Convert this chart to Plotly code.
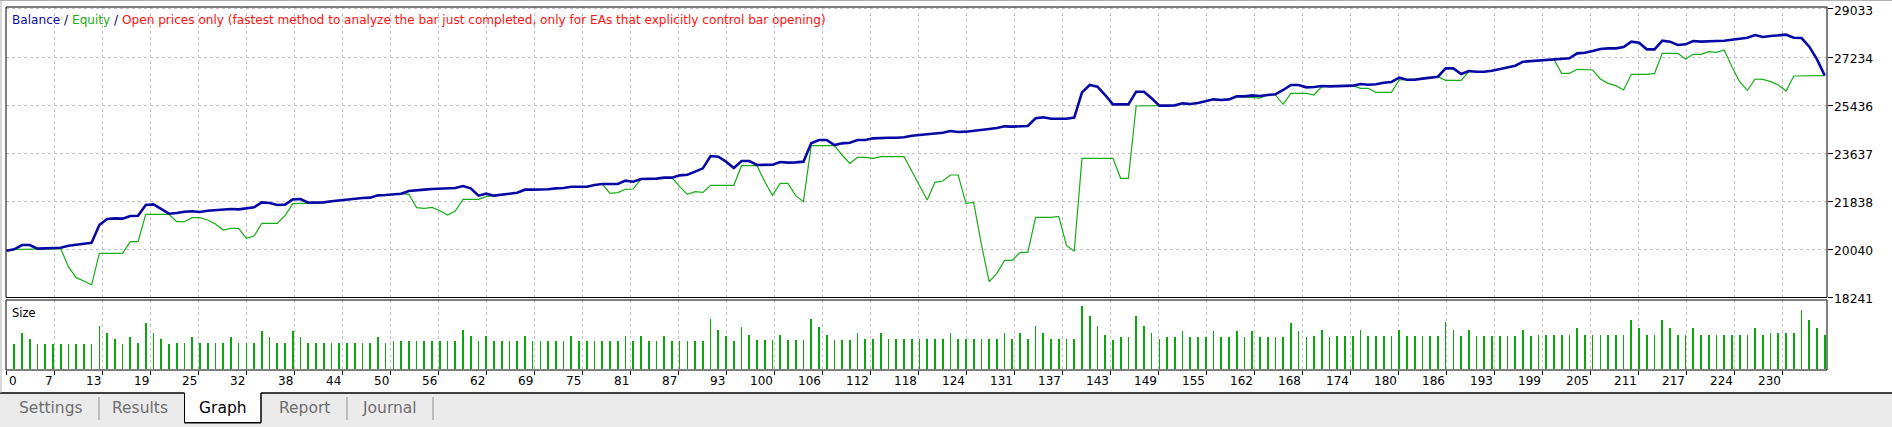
import plotly.graph_objects as go

# ---------------- data ----------------
balance = [
    19990, 20040, 20202, 20202, 20065, 20077, 20090, 20102, 20177, 20227,
    20252, 20289, 20950, 21175, 21200, 21187, 21287, 21299, 21698, 21723,
    21549, 21374, 21399, 21449, 21462, 21437, 21486, 21511, 21524, 21549,
    21536, 21586, 21611, 21798, 21773, 21698, 21711, 21910, 21923, 21786,
    21786, 21798, 21836, 21873, 21898, 21948, 21960, 21973, 22060, 22073,
    22098, 22122, 22222, 22260, 22272, 22297, 22310, 22322, 22334, 22409,
    22322, 22048, 22122, 22048, 22098, 22122, 22160, 22272, 22272, 22272,
    22285, 22322, 22334, 22384, 22372, 22384, 22447, 22484, 22484, 22484,
    22609, 22571, 22671, 22671, 22684, 22721, 22721, 22808, 22833, 22946,
    23070, 23532, 23507, 23320, 23083, 23345, 23345, 23195, 23195, 23207,
    23307, 23282, 23295, 23320, 24005, 24130, 24130, 23943, 24005, 24030,
    24130, 24130, 24192, 24217, 24217, 24217, 24230, 24292, 24317, 24367,
    24392, 24404, 24467, 24429, 24442, 24467, 24504, 24542, 24579, 24641,
    24629, 24641, 24654, 24941, 24978, 24928, 24928, 24928, 24966, 25913,
    26188, 26125, 25814, 25464, 25464, 25464, 25938, 25938, 25689, 25415,
    25415, 25427, 25502, 25477, 25514, 25589, 25651, 25627, 25651, 25764,
    25764, 25801, 25776, 25814, 25839, 26001, 26188, 26188, 26100, 26113,
    26150, 26138, 26138, 26150, 26163, 26225, 26200, 26213, 26275, 26300,
    26462, 26387, 26387, 26425, 26462, 26499, 26811, 26811, 26599, 26711,
    26686, 26686, 26724, 26786, 26836, 26911, 27061, 27086, 27086, 27110,
    27160, 27173, 27185, 27372, 27397, 27460, 27534, 27559, 27559, 27609,
    27809, 27771, 27522, 27522, 27846, 27809, 27684, 27709, 27834, 27809,
    27809, 27834, 27846, 27884, 27921, 27958, 28058, 27983, 28021, 28046,
    28071, 27958, 27946, 27622, 27148, 26537,
]

equity = [
    19990, 20040, 20040, 20040, 20040, 20065, 20065, 20065, 19391, 18980,
    18855, 18706, 19890, 19890, 19890, 19890, 20327, 20327, 21349, 21349,
    21349, 21349, 21075, 21075, 21225, 21225, 21137, 20988, 20763, 20826,
    20826, 20452, 20539, 21013, 21013, 21013, 21299, 21748, 21761, 21761,
    21761, 21798, 21836, 21873, 21898, 21948, 21960, 21973, 22060, 22073,
    22098, 22122, 22098, 21599, 21574, 21611, 21486, 21324, 21474, 21910,
    21910, 21910, 22010, 22048, 22098, 22122, 22160, 22272, 22272, 22272,
    22285, 22322, 22334, 22384, 22372, 22384, 22447, 22484, 22135, 22160,
    22285, 22297, 22671, 22671, 22684, 22721, 22721, 22384, 22098, 22197,
    22172, 22434, 22434, 22434, 22434, 23170, 23170, 23170, 22571, 22060,
    22509, 22509, 22048, 21823, 23918, 23918, 23918, 23918, 23569, 23257,
    23482, 23482, 23444, 23507, 23507, 23507, 23507, 22970, 22422, 21886,
    22546, 22596, 22821, 22821, 21761, 21798, 20227, 18830, 19142, 19628,
    19628, 19928, 19928, 21237, 21237, 21237, 21274, 20177, 19978, 23444,
    23444, 23444, 23444, 23444, 22696, 22696, 25402, 25402, 25402, 25415,
    25415, 25427, 25502, 25477, 25514, 25589, 25651, 25627, 25651, 25764,
    25739, 25701, 25701, 25814, 25814, 25464, 25876, 25876, 25876, 25814,
    26125, 26138, 26138, 26150, 26163, 26063, 26063, 25913, 25913, 25913,
    26375, 26387, 26387, 26425, 26462, 26499, 26362, 26362, 26362, 26686,
    26686, 26686, 26724, 26786, 26836, 26911, 27061, 27086, 27086, 27110,
    27148, 26624, 26624, 26774, 26774, 26749, 26412, 26250, 26163, 26001,
    26587, 26587, 26587, 26624, 27372, 27372, 27372, 27160, 27335, 27335,
    27435, 27410, 27497, 26874, 26312, 25988, 26412, 26400, 26312, 26188,
    25963, 26524, 26524, 26524, 26524, 26537,
]

sizes = [
    0.25, 0.36, 0.30, 0.25, 0.25, 0.25, 0.25, 0.25, 0.25, 0.25,
    0.25, 0.43, 0.36, 0.30, 0.25, 0.32, 0.26, 0.46, 0.36, 0.30,
    0.25, 0.26, 0.26, 0.32, 0.26, 0.26, 0.26, 0.26, 0.32, 0.26,
    0.26, 0.26, 0.38, 0.32, 0.26, 0.26, 0.38, 0.32, 0.26, 0.26,
    0.26, 0.26, 0.26, 0.26, 0.26, 0.26, 0.26, 0.32, 0.26, 0.28,
    0.28, 0.28, 0.28, 0.28, 0.28, 0.28, 0.28, 0.28, 0.39, 0.33,
    0.28, 0.33, 0.28, 0.28, 0.28, 0.28, 0.33, 0.28, 0.28, 0.28,
    0.28, 0.28, 0.33, 0.28, 0.28, 0.28, 0.28, 0.28, 0.28, 0.33,
    0.28, 0.33, 0.28, 0.28, 0.33, 0.28, 0.28, 0.28, 0.28, 0.28,
    0.50, 0.39, 0.33, 0.28, 0.42, 0.34, 0.29, 0.29, 0.29, 0.34,
    0.29, 0.29, 0.29, 0.50, 0.42, 0.34, 0.29, 0.29, 0.29, 0.36,
    0.30, 0.30, 0.36, 0.30, 0.30, 0.30, 0.30, 0.30, 0.30, 0.30,
    0.30, 0.36, 0.30, 0.30, 0.30, 0.30, 0.30, 0.30, 0.36, 0.30,
    0.36, 0.30, 0.43, 0.36, 0.30, 0.30, 0.30, 0.30, 0.63, 0.53,
    0.43, 0.34, 0.29, 0.32, 0.32, 0.53, 0.43, 0.36, 0.30, 0.32,
    0.32, 0.38, 0.32, 0.32, 0.32, 0.38, 0.32, 0.32, 0.38, 0.32,
    0.38, 0.32, 0.32, 0.32, 0.32, 0.46, 0.38, 0.32, 0.33, 0.39,
    0.32, 0.33, 0.33, 0.33, 0.39, 0.33, 0.33, 0.33, 0.33, 0.39,
    0.33, 0.33, 0.33, 0.33, 0.33, 0.47, 0.39, 0.33, 0.39, 0.33,
    0.33, 0.33, 0.33, 0.33, 0.33, 0.39, 0.33, 0.34, 0.34, 0.34,
    0.34, 0.34, 0.41, 0.34, 0.34, 0.34, 0.34, 0.34, 0.34, 0.49,
    0.41, 0.34, 0.34, 0.49, 0.41, 0.34, 0.34, 0.41, 0.34, 0.34,
    0.34, 0.34, 0.34, 0.34, 0.34, 0.41, 0.34, 0.36, 0.36, 0.36,
    0.36, 0.59, 0.49, 0.41, 0.34,
]

x_tick_labels = ["0", "7", "13", "19", "25", "32", "38", "44", "50", "56", "62", "69",
                 "75", "81", "87", "93", "100", "106", "112", "118", "124", "131",
                 "137", "143", "149", "155", "162", "168", "174", "180", "186", "193",
                 "199", "205", "211", "217", "224", "230"]
y_tick_values = [18241, 20040, 21838, 23637, 25436, 27234, 29033]

assert len(balance) == len(equity) == 236, (len(balance), len(equity))
assert len(sizes) == 235, len(sizes)

trades = list(range(len(balance)))
size_trades = list(range(1, len(sizes) + 1))

# ---------------- layout helpers ----------------
W, H = 1892, 427
ML, MR, MT, MB = 6, 65, 7, 57
PW, PH = W - ML - MR, H - MT - MB


def px(x):
    return (x - ML) / PW


def py(y):
    return (H - MB - y) / PH


GRID_STEP = 6.204
x_tick_vals = [k * GRID_STEP for k in range(len(x_tick_labels))]

FONT = "DejaVu Sans"
GRID = "#c6bec8"

fig = go.Figure()
fig.add_trace(go.Scatter(x=trades, y=equity, mode="lines",
                         line=dict(color="#17ad17", width=1.2),
                         xaxis="x", yaxis="y", hoverinfo="skip"))
fig.add_trace(go.Scatter(x=trades, y=balance, mode="lines",
                         line=dict(color="#0808a4", width=2.6),
                         xaxis="x", yaxis="y", hoverinfo="skip"))
fig.add_trace(go.Bar(x=size_trades, y=sizes, width=0.22,
                     marker=dict(color="#0aa80a", line=dict(width=0)),
                     xaxis="x", yaxis="y2", hoverinfo="skip"))

main_bottom = py(297.5)
size_top = py(300)

fig.update_layout(
    width=W, height=H,
    margin=dict(l=ML, r=MR, t=MT, b=MB),
    paper_bgcolor="white", plot_bgcolor="white",
    showlegend=False, hovermode=False, bargap=0,
    xaxis=dict(domain=[0, 1], range=[-0.065, 235.29], anchor="y2",
               tickvals=x_tick_vals, showticklabels=False,
               ticks="outside", ticklen=4, tickcolor="black", tickwidth=1,
               showgrid=True, gridcolor=GRID, griddash="3px,3px", gridwidth=1,
               zeroline=False, showline=False),
    yaxis=dict(domain=[main_bottom, 1], range=[18238, 29106], side="right",
               anchor="x", tickvals=y_tick_values, showticklabels=False,
               ticks="outside", ticklen=5, tickcolor="black", tickwidth=1,
               showgrid=True, gridcolor=GRID, griddash="3px,3px", gridwidth=1,
               zeroline=False, showline=False),
    yaxis2=dict(domain=[0, size_top], range=[-0.01, 0.69], anchor="x",
                showgrid=False, showticklabels=False, zeroline=False, ticks=""),
)

shapes = []
# bottom tab strip
shapes.append(dict(type="rect", xref="paper", yref="paper", x0=px(0), x1=px(W),
                   y0=py(393), y1=py(H), fillcolor="#ebebeb", line=dict(width=0), layer="below"))
# Graph tab (selected)
shapes.append(dict(type="rect", xref="paper", yref="paper", x0=px(184.5), x1=px(261),
                   y0=py(392), y1=py(422.7), fillcolor="white", line=dict(width=0), layer="below"))
line_black = dict(color="black", width=1.5)
shapes += [
    dict(type="line", xref="paper", yref="paper", x0=px(0), x1=px(184.5), y0=py(393), y1=py(393), line=line_black),
    dict(type="line", xref="paper", yref="paper", x0=px(261), x1=px(W), y0=py(393), y1=py(393), line=line_black),
    dict(type="line", xref="paper", yref="paper", x0=px(184.5), x1=px(184.5), y0=py(393), y1=py(422.7), line=dict(color="black", width=1)),
    dict(type="line", xref="paper", yref="paper", x0=px(261), x1=px(261), y0=py(393), y1=py(422.7), line=dict(color="black", width=1.5)),
    dict(type="line", xref="paper", yref="paper", x0=px(184.5), x1=px(261), y0=py(422.7), y1=py(422.7), line=dict(color="black", width=1.5)),
]
for sx in (99, 347, 433):
    shapes.append(dict(type="line", xref="paper", yref="paper", x0=px(sx), x1=px(sx),
                       y0=py(397), y1=py(420), line=dict(color="#8c8c8c", width=1)))
# outer light border
shapes.append(dict(type="line", xref="paper", yref="paper", x0=px(1), x1=px(1), y0=py(0), y1=py(393),
                   line=dict(color="#b0b0b0", width=1)))
shapes.append(dict(type="line", xref="paper", yref="paper", x0=px(0), x1=px(W), y0=py(0.5), y1=py(0.5),
                   line=dict(color="#b0b0b0", width=1)))
# panel frames
shapes.append(dict(type="rect", xref="paper", yref="paper", x0=0, x1=1, y0=main_bottom, y1=1,
                   line=dict(color="black", width=1), fillcolor="rgba(0,0,0,0)", layer="above"))
shapes.append(dict(type="rect", xref="paper", yref="paper", x0=0, x1=1, y0=0, y1=size_top,
                   line=dict(color="black", width=1), fillcolor="rgba(0,0,0,0)", layer="above"))
fig.update_layout(shapes=shapes)

ann = []
title_html = ('<span style="color:#0a0aaa">Balance</span>'
              '<span style="color:#000050"> / </span>'
              '<span style="color:#1aaa1a">Equity</span>'
              '<span style="color:#000050"> / </span>'
              '<span style="color:#ff1010">Open prices only (fastest method to analyze the bar just completed, '
              'only for EAs that explicitly control bar opening)</span>')
ann.append(dict(text=title_html, xref="paper", yref="paper", x=px(10), y=py(20),
                xanchor="left", yanchor="middle", showarrow=False,
                font=dict(family=FONT, size=12.1, color="black")))
ann.append(dict(text="Size", xref="paper", yref="paper", x=px(10), y=py(313),
                xanchor="left", yanchor="middle", showarrow=False,
                font=dict(family=FONT, size=11.5, color="black")))
# x tick labels (right-aligned to their grid line, as in the original)
for k, (tv, tl) in enumerate(zip(x_tick_vals, x_tick_labels)):
    ann.append(dict(text=tl, xref="x", yref="paper", x=tv, y=py(381),
                    xanchor="left" if k == 0 else "right",
                    xshift=0, yanchor="middle", showarrow=False,
                    font=dict(family=FONT, size=12, color="black")))
# y tick labels on the right
for v in y_tick_values:
    ann.append(dict(text=str(v), xref="paper", yref="y", x=1, y=v, xanchor="left",
                    xshift=5, yshift=-2, yanchor="middle", showarrow=False,
                    font=dict(family=FONT, size=12.3, color="black")))
# tabs
tabs = [("Settings", 51, "#6e6e6e"), ("Results", 140, "#6e6e6e"), ("Graph", 223, "black"),
        ("Report", 304, "#6e6e6e"), ("Journal", 389, "#6e6e6e")]
for name, cx, col in tabs:
    ann.append(dict(text=name, xref="paper", yref="paper", x=px(cx), y=py(408),
                    xanchor="center", yanchor="middle", showarrow=False,
                    font=dict(family=FONT, size=15.5, color=col)))
fig.update_layout(annotations=ann)

fig.write_html("out.html",
               config={"displayModeBar": False, "staticPlot": True},
               post_script="document.body.style.margin='0';document.body.style.padding='0';")
